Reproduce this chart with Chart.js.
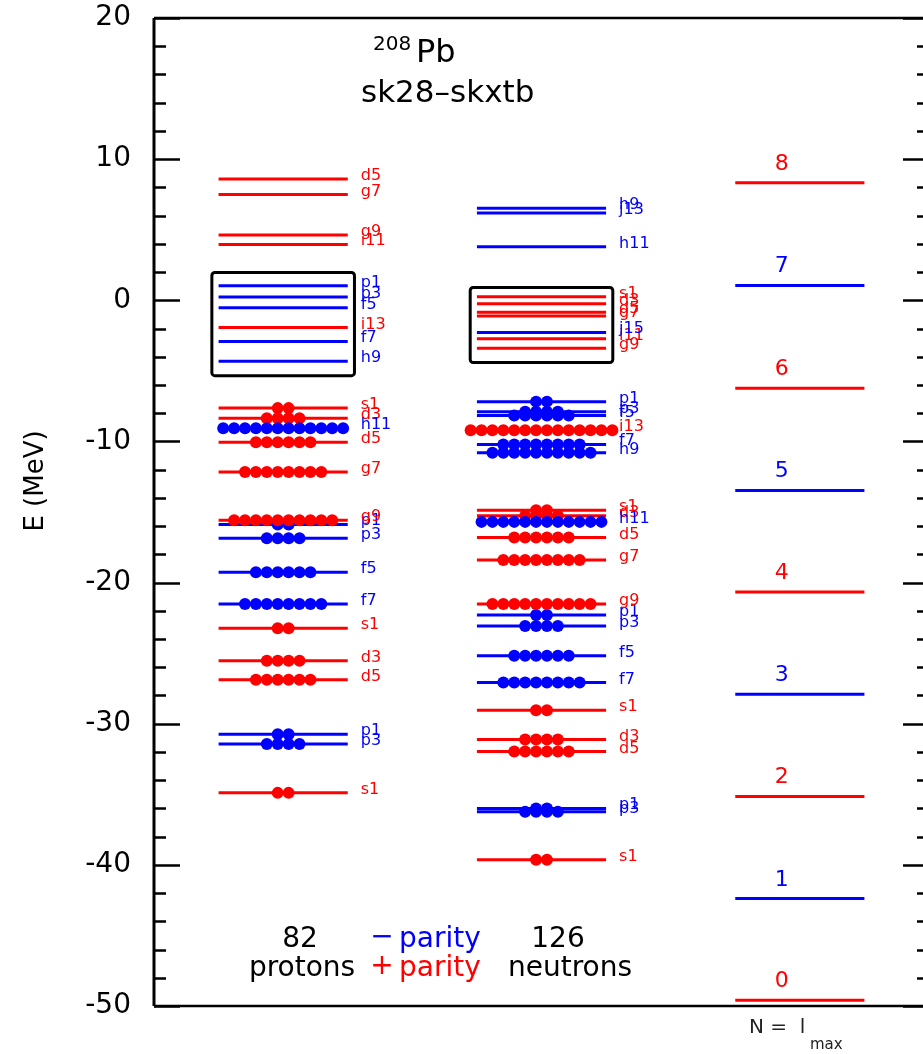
<!DOCTYPE html>
<html>
<head>
<meta charset="utf-8">
<script src="https://cdn.jsdelivr.net/npm/chart.js@4/dist/chart.umd.min.js"></script>
<style>
  html, body { margin: 0; padding: 0; background: #fff; overflow: hidden; }
  #wrap { width: 923px; height: 1054px; overflow: hidden; }
</style>
</head>
<body>
<div id="wrap"><canvas id="levels" width="940" height="1054"></canvas></div>
<script>
// 208Pb single-particle levels (sk28-skxtb), listed shell by shell so the
// later shells' occupation dots sit on top of the earlier ones
const protonLabels = ['s1',
  'p3', 'p1',
  'd5', 's1', 'd3',
  'f7', 'p3', 'f5', 'p1',
  'g9', 'd5', 'g7', 's1', 'd3',
  'h11', 'f7', 'h9', 'p3', 'f5', 'p1',
  'i13', 'g9', 'i11', 'd5', 'g7'];
const protonEnergies = [-34.90,
  -31.43, -30.74,
  -26.89, -23.24, -25.54,
  -21.52, -16.86, -19.27, -15.88,
  -15.58, -10.06, -12.17, -7.64, -8.36,
  -9.07, -2.92, -4.32, 0.23, -0.53, 1.03,
  -1.93, 4.63, 3.96, 8.60, 7.49];
const protonOccupancy = [2,
  4, 2,
  6, 2, 4,
  8, 4, 6, 2,
  10, 6, 8, 2, 4,
  12, 0, 0, 0, 0, 0,
  0, 0, 0, 0, 0];

const neutronLabels = ['s1',
  'p3', 'p1',
  'd5', 's1', 'd3',
  'f7', 'p3', 'f5', 'p1',
  'g9', 'd5', 'g7', 's1', 'd3',
  'h11', 'f7', 'h9', 'p3', 'f5', 'p1',
  'i13', 'g9', 'i11', 'g7', 'd5', 'd3', 's1',
  'j15', 'h11', 'j13', 'h9'];
const neutronEnergies = [-39.64,
  -36.23, -36.00,
  -31.97, -29.04, -31.12,
  -27.08, -23.08, -25.18, -22.30,
  -21.52, -16.81, -18.40, -14.87, -15.27,
  -15.70, -10.21, -10.80, -7.89, -8.17, -7.18,
  -9.21, -3.39, -2.73, -1.12, -0.84, -0.25, 0.25,
  -2.28, 3.80, 6.19, 6.52];
const neutronOccupancy = [2,
  4, 2,
  6, 2, 4,
  8, 4, 6, 2,
  10, 6, 8, 2, 4,
  12, 8, 10, 4, 6, 2,
  14, 0, 0, 0, 0, 0, 0,
  0, 0, 0, 0];

// oscillator shells N = l_max
const shellNumbers = [0, 1, 2, 3, 4, 5, 6, 7, 8];
const shellEnergies = [-49.60, -42.39, -35.15, -27.91, -20.67, -13.47, -6.23, 1.05, 8.32];

// boxes around the levels near the Fermi surface [protons, neutrons]
const boxTop = [1.97, 0.91];
const boxBottom = [-5.34, -4.41];

const energyTicks = [20, 10, 0, -10, -20, -30, -40, -50];

const RED = '#ff0000';
const BLUE = '#0000ff';
const FONT = 'DejaVu Sans';
const DOT_STEP = 0.0844;
const COLS = { proton: 1, neutron: 3, shell: 5 };

const parityColor = l => ('sdgik'.includes(l[0]) ? RED : BLUE);
const shellColor = n => (n % 2 === 0 ? RED : BLUE);

const protonColors = protonLabels.map(parityColor);
const neutronColors = neutronLabels.map(parityColor);
const shellColors = shellNumbers.map(shellColor);

function levelLines(energies, center) {
  const pts = [];
  energies.forEach(e => {
    pts.push({ x: center - 0.5, y: e }, { x: center + 0.5, y: e }, { x: center + 0.5, y: null });
  });
  return pts;
}

function levelDots(energies, occupancy, colors, center) {
  const pts = [];
  energies.forEach((e, i) => {
    const n = occupancy[i];
    for (let k = 0; k < n; k++) {
      pts.push({ x: center + (k - (n - 1) / 2) * DOT_STEP, y: e, c: colors[i] });
    }
  });
  return pts;
}

function lineSet(energies, colors, center) {
  return {
    data: levelLines(energies, center),
    showLine: true,
    spanGaps: false,
    pointRadius: 0,
    borderWidth: 3,
    borderColor: colors[0],
    segment: { borderColor: ctx => colors[Math.floor(ctx.p0DataIndex / 3)] },
    order: 2
  };
}

function dotSet(energies, occupancy, colors, center) {
  return {
    data: levelDots(energies, occupancy, colors, center),
    pointRadius: 6,
    borderWidth: 0,
    backgroundColor: ctx => (ctx.raw ? ctx.raw.c : RED),
    order: 1
  };
}

// axes frame, inward ticks, boxes and all the text
const decorations = {
  id: 'decorations',
  afterDatasetsDraw(chart) {
    const { ctx, chartArea: a, scales: { x, y } } = chart;
    ctx.save();

    // frame
    ctx.strokeStyle = '#000';
    ctx.lineWidth = 3;
    ctx.beginPath();
    ctx.moveTo(a.left, a.top);
    ctx.lineTo(a.left, a.bottom);
    ctx.moveTo(a.right, a.top);
    ctx.lineTo(a.right, a.bottom);
    ctx.stroke();
    ctx.lineWidth = 2.5;
    ctx.beginPath();
    ctx.moveTo(a.left, a.top);
    ctx.lineTo(a.right, a.top);
    ctx.moveTo(a.left, a.bottom);
    ctx.lineTo(a.right, a.bottom);
    ctx.stroke();

    // ticks every 2 MeV, longer every 10
    ctx.lineWidth = 2.5;
    ctx.beginPath();
    for (let e = y.min; e <= y.max; e += 2) {
      const py = Math.round(y.getPixelForValue(e)) + 0.5;
      const len = e % 10 === 0 ? 26 : 12;
      ctx.moveTo(a.left, py);
      ctx.lineTo(a.left + len, py);
      ctx.moveTo(a.right, py);
      ctx.lineTo(a.right - len, py);
    }
    ctx.stroke();

    // boxes
    ctx.lineWidth = 3;
    [COLS.proton, COLS.neutron].forEach((c, i) => {
      const x0 = x.getPixelForValue(c - 0.552);
      const x1 = x.getPixelForValue(c + 0.552);
      const y0 = y.getPixelForValue(boxTop[i]);
      const y1 = y.getPixelForValue(boxBottom[i]);
      ctx.beginPath();
      ctx.roundRect(x0, y0, x1 - x0, y1 - y0, 3);
      ctx.stroke();
    });

    // level labels
    ctx.font = '16px "' + FONT + '"';
    ctx.textAlign = 'left';
    ctx.textBaseline = 'alphabetic';
    const labelLevels = (labels, energies, colors, center) => {
      const lx = x.getPixelForValue(center + 0.5) + 13;
      labels.forEach((l, i) => {
        ctx.fillStyle = colors[i];
        ctx.fillText(l, lx, y.getPixelForValue(energies[i]) + 1);
      });
    };
    labelLevels(protonLabels, protonEnergies, protonColors, COLS.proton);
    labelLevels(neutronLabels, neutronEnergies, neutronColors, COLS.neutron);

    // shell numbers
    ctx.font = '22px "' + FONT + '"';
    ctx.textAlign = 'center';
    shellNumbers.forEach((n, i) => {
      ctx.fillStyle = shellColors[i];
      ctx.fillText(String(n), x.getPixelForValue(COLS.shell) - 18, y.getPixelForValue(shellEnergies[i]) - 13);
    });

    // title
    ctx.fillStyle = '#000';
    ctx.textAlign = 'left';
    ctx.font = '20px "' + FONT + '"';
    ctx.fillText('208', 373, 50);
    ctx.font = '32px "' + FONT + '"';
    ctx.fillText('Pb', 416, 62);
    ctx.font = '31px "' + FONT + '"';
    ctx.fillText('sk28–skxtb', 361, 102);

    // axis title
    ctx.save();
    ctx.translate(36, 481);
    ctx.rotate(-Math.PI / 2);
    ctx.textAlign = 'center';
    ctx.textBaseline = 'middle';
    ctx.font = '26px "' + FONT + '"';
    ctx.fillText('E (MeV)', 0, 0);
    ctx.restore();

    // key at the bottom
    ctx.font = '28px "' + FONT + '"';
    ctx.textAlign = 'center';
    ctx.fillStyle = '#000';
    ctx.fillText('82', 300, 947);
    ctx.fillText('protons', 302, 976);
    ctx.fillText('126', 558, 947);
    ctx.fillText('neutrons', 570, 976);
    ctx.fillStyle = BLUE;
    ctx.fillText('−', 382, 945);
    ctx.textAlign = 'left';
    ctx.fillText('parity', 399, 947);
    ctx.fillStyle = RED;
    ctx.textAlign = 'center';
    ctx.fillText('+', 382, 974);
    ctx.textAlign = 'left';
    ctx.fillText('parity', 399, 976);

    // N = l_max under the shell column
    ctx.fillStyle = '#222';
    ctx.font = '20px "' + FONT + '"';
    ctx.fillText('N =  l', 749, 1033);
    ctx.font = '15px "' + FONT + '"';
    ctx.fillText('max', 810, 1049);

    ctx.restore();
  }
};

new Chart(document.getElementById('levels'), {
  type: 'scatter',
  data: {
    datasets: [
      lineSet(protonEnergies, protonColors, COLS.proton),
      lineSet(neutronEnergies, neutronColors, COLS.neutron),
      lineSet(shellEnergies, shellColors, COLS.shell),
      dotSet(protonEnergies, protonOccupancy, protonColors, COLS.proton),
      dotSet(neutronEnergies, neutronOccupancy, neutronColors, COLS.neutron)
    ]
  },
  options: {
    responsive: false,
    devicePixelRatio: 1,
    animation: false,
    events: [],
    layout: { padding: { left: 0, right: 11, top: 18, bottom: 48 } },
    plugins: { legend: { display: false }, tooltip: { enabled: false } },
    scales: {
      x: { type: 'linear', min: 0, max: 6, display: false },
      y: {
        type: 'linear',
        min: -50,
        max: 20,
        afterFit: s => {
          s.width = 154;
          s.paddingTop = 0;
          s.paddingBottom = 0;
        },
        afterBuildTicks: s => { s.ticks = energyTicks.map(v => ({ value: v })); },
        grid: { display: false, drawTicks: false },
        border: { display: false },
        ticks: { padding: 23, color: '#000', font: { family: FONT, size: 28 } }
      }
    }
  },
  plugins: [decorations]
});
</script>
</body>
</html>
